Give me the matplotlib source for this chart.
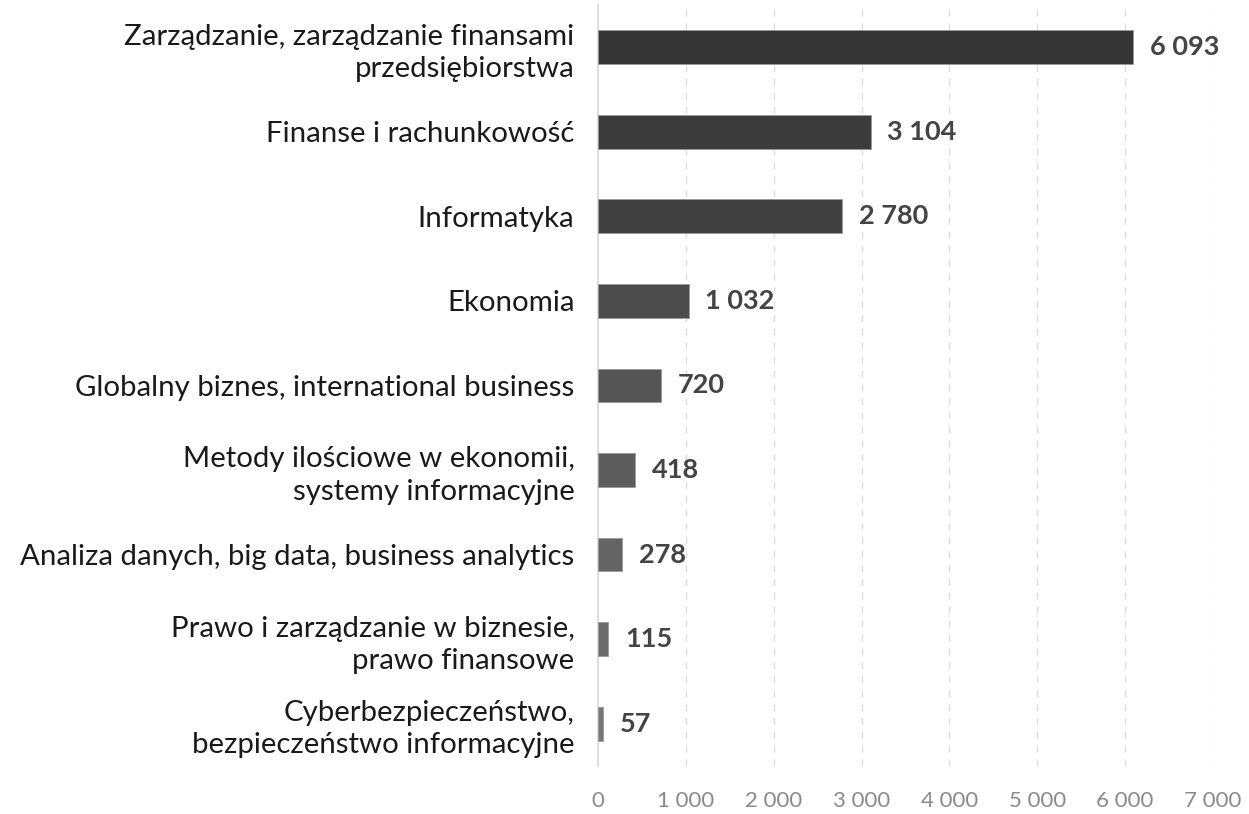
import matplotlib.pyplot as plt

# categories from top to bottom
categories = [
    "Zarządzanie, zarządzanie finansami\nprzedsiębiorstwa",
    "Finanse i rachunkowość",
    "Informatyka",
    "Ekonomia",
    "Globalny biznes, international business",
    "Metody ilościowe w ekonomii,\nsystemy informacyjne",
    "Analiza danych, big data, business analytics",
    "Prawo i zarządzanie w biznesie,\nprawo finansowe",
    "Cyberbezpieczeństwo,\nbezpieczeństwo informacyjne",
]
values = [6093, 3104, 2780, 1032, 720, 418, 278, 115, 57]
bar_colors = ["#353535", "#3b3b3b", "#414141", "#4c4c4c", "#555555",
              "#5c5c5c", "#646464", "#6c6c6c", "#767676"]
xticks = [0, 1000, 2000, 3000, 4000, 5000, 6000, 7000]


def fmt(v):
    return f"{v:,}".replace(",", " ")


plt.rcParams['font.family'] = ['Lato', 'DejaVu Sans']

fig = plt.figure(figsize=(12.49, 8.14), dpi=100)
ax = fig.add_axes([0.4788, 0.059, 0.4924, 0.935])

y = list(range(len(values)))
ax.barh(y, values, height=0.4, color=bar_colors, edgecolor="#9a9a9a",
        linewidth=0.6, zorder=3)
for yi, v in zip(y, values):
    ax.text(v + 190, yi, fmt(v), va="center", ha="left", fontsize=19.5,
            fontweight="bold", color="#444444")

ax.set_ylim(len(values) - 0.5, -0.5)
ax.set_xlim(0, 7000)
ax.set_yticks(y)
ax.set_yticklabels(categories, fontsize=21.2, color="#1a1a1a",
                   linespacing=1.3)
ax.set_xticks(xticks)
ax.set_xticklabels([fmt(t) for t in xticks], fontsize=16, color="#8a8a8a")
ax.tick_params(axis="y", length=0, pad=17)
ax.tick_params(axis="x", length=0, pad=18)

for s in ["top", "right", "bottom"]:
    ax.spines[s].set_visible(False)
ax.spines["left"].set_color("#d8d8d8")
ax.spines["left"].set_linewidth(1.2)
ax.grid(axis="x", linestyle=(0, (5, 5)), color="#dddddd", linewidth=1, zorder=0)
ax.xaxis.get_gridlines()[0].set_visible(False)

fig.savefig("out.png", dpi=100, facecolor="white")
